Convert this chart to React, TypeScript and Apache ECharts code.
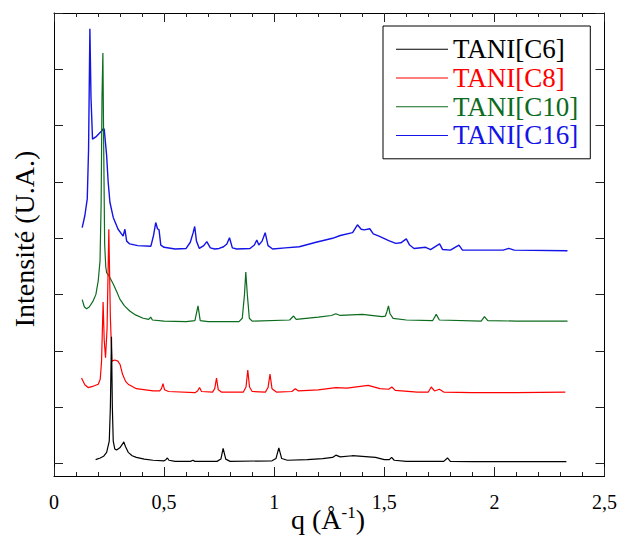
import React, { useEffect, useRef } from 'react';
import * as echarts from 'echarts';

const seriesNames = ['TANI[C6]', 'TANI[C8]', 'TANI[C10]', 'TANI[C16]'];
const seriesColors = ['#000000', '#ff0000', '#0b6b1e', '#1414e6'];
const xTickValues = [0, 0.5, 1, 1.5, 2, 2.5];
const yTickValues = [0, 1, 2, 3, 4, 5, 6, 7, 8];

const c6: [number, number][] = [
  [0.189, 0.07], [0.21, 0.1], [0.225, 0.13], [0.239, 0.2], [0.251, 0.4], [0.256, 1.0], [0.261, 2.25],
  [0.265, 1.0], [0.269, 0.4], [0.276, 0.26], [0.284, 0.24], [0.299, 0.28], [0.31, 0.34], [0.317, 0.385],
  [0.325, 0.3], [0.337, 0.2], [0.355, 0.14], [0.374, 0.11], [0.41, 0.08], [0.45, 0.06], [0.5, 0.05],
  [0.508, 0.07], [0.515, 0.1], [0.522, 0.06], [0.55, 0.04], [0.62, 0.04], [0.631, 0.06], [0.64, 0.04],
  [0.74, 0.04], [0.758, 0.08], [0.768, 0.27], [0.78, 0.08], [0.8, 0.04], [0.99, 0.05], [1.008, 0.09],
  [1.021, 0.28], [1.034, 0.09], [1.06, 0.06], [1.15, 0.07], [1.22, 0.09], [1.265, 0.11], [1.28, 0.15],
  [1.3, 0.12], [1.355, 0.14], [1.4, 0.13], [1.46, 0.11], [1.5, 0.07], [1.523, 0.07], [1.533, 0.11],
  [1.545, 0.06], [1.6, 0.04], [1.77, 0.04], [1.787, 0.1], [1.8, 0.04], [1.9, 0.035], [2.1, 0.035],
  [2.327, 0.035],
];

const c8: [number, number][] = [
  [0.125, 1.52], [0.14, 1.4], [0.155, 1.35], [0.175, 1.37], [0.201, 1.41], [0.21, 1.5], [0.216, 1.82],
  [0.223, 2.87], [0.228, 2.2], [0.234, 1.88], [0.241, 2.4], [0.249, 4.16], [0.256, 2.6], [0.263, 1.82],
  [0.276, 1.84], [0.29, 1.82], [0.3, 1.76], [0.311, 1.59], [0.325, 1.46], [0.337, 1.41], [0.374, 1.33],
  [0.45, 1.29], [0.48, 1.29], [0.488, 1.33], [0.495, 1.42], [0.502, 1.31], [0.52, 1.28], [0.64, 1.26],
  [0.652, 1.29], [0.661, 1.35], [0.67, 1.28], [0.72, 1.27], [0.73, 1.33], [0.738, 1.52], [0.746, 1.31],
  [0.76, 1.27], [0.86, 1.27], [0.872, 1.36], [0.88, 1.66], [0.888, 1.36], [0.9, 1.28], [0.96, 1.27],
  [0.972, 1.35], [0.981, 1.59], [0.99, 1.33], [1.01, 1.27], [1.08, 1.28], [1.096, 1.33], [1.11, 1.29],
  [1.2, 1.31], [1.28, 1.35], [1.33, 1.34], [1.427, 1.39], [1.48, 1.33], [1.52, 1.32], [1.534, 1.36],
  [1.55, 1.3], [1.65, 1.27], [1.7, 1.27], [1.713, 1.36], [1.728, 1.29], [1.75, 1.32], [1.77, 1.27],
  [1.9, 1.26], [2.1, 1.26], [2.322, 1.27],
];

const c10: [number, number][] = [
  [0.128, 2.91], [0.138, 2.78], [0.148, 2.75], [0.16, 2.78], [0.178, 2.89], [0.19, 3.0], [0.201, 3.25],
  [0.209, 3.6], [0.214, 4.6], [0.218, 6.5], [0.222, 7.29], [0.226, 5.5], [0.23, 3.9], [0.235, 3.5],
  [0.239, 3.39], [0.25, 3.33], [0.269, 3.19], [0.285, 3.05], [0.299, 2.92], [0.32, 2.8], [0.344, 2.71],
  [0.37, 2.64], [0.405, 2.58], [0.43, 2.56], [0.439, 2.6], [0.447, 2.55], [0.5, 2.53], [0.6, 2.52],
  [0.64, 2.54], [0.654, 2.8], [0.664, 2.54], [0.7, 2.52], [0.84, 2.52], [0.855, 2.58], [0.865, 3.0],
  [0.871, 3.4], [0.878, 3.0], [0.887, 2.58], [0.9, 2.53], [1.07, 2.55], [1.088, 2.62], [1.1, 2.56],
  [1.2, 2.6], [1.26, 2.63], [1.28, 2.66], [1.3, 2.63], [1.4, 2.65], [1.49, 2.61], [1.505, 2.62],
  [1.512, 2.7], [1.519, 2.8], [1.526, 2.66], [1.54, 2.58], [1.6, 2.55], [1.72, 2.54], [1.736, 2.65],
  [1.75, 2.55], [1.94, 2.53], [1.955, 2.61], [1.97, 2.54], [2.1, 2.53], [2.332, 2.53],
];

const c16: [number, number][] = [
  [0.128, 4.19], [0.14, 4.4], [0.151, 4.7], [0.157, 5.58], [0.163, 7.72], [0.168, 6.5], [0.175, 5.76],
  [0.19, 5.8], [0.205, 5.86], [0.215, 5.9], [0.223, 5.94], [0.228, 5.94], [0.239, 5.47], [0.246, 5.0],
  [0.254, 4.64], [0.269, 4.37], [0.291, 4.16], [0.314, 4.04], [0.322, 4.16], [0.33, 3.95], [0.344, 3.9],
  [0.38, 3.87], [0.44, 3.86], [0.452, 4.05], [0.462, 4.28], [0.47, 4.17], [0.477, 4.15], [0.485, 3.88],
  [0.5, 3.84], [0.55, 3.81], [0.6, 3.82], [0.619, 3.93], [0.632, 4.1], [0.639, 4.21], [0.647, 3.95],
  [0.66, 3.82], [0.68, 3.87], [0.694, 3.94], [0.71, 3.83], [0.73, 3.81], [0.75, 3.82], [0.77, 3.85],
  [0.785, 3.9], [0.797, 4.01], [0.81, 3.83], [0.83, 3.81], [0.89, 3.82], [0.91, 3.88], [0.921, 3.97],
  [0.93, 3.88], [0.945, 3.95], [0.959, 4.1], [0.972, 3.87], [0.993, 3.81], [1.05, 3.83], [1.114, 3.85],
  [1.19, 3.93], [1.265, 4.0], [1.3, 4.05], [1.356, 4.1], [1.378, 4.24], [1.395, 4.16], [1.409, 4.15],
  [1.434, 4.17], [1.45, 4.08], [1.476, 4.04], [1.52, 3.96], [1.552, 3.91], [1.575, 3.92], [1.6, 3.99],
  [1.615, 3.88], [1.635, 3.82], [1.688, 3.84], [1.71, 3.8], [1.751, 3.9], [1.765, 3.8], [1.8, 3.79],
  [1.839, 3.88], [1.855, 3.79], [2.04, 3.79], [2.065, 3.82], [2.09, 3.79], [2.332, 3.78],
];

const seriesData = [c6, c8, c10, c16];

const FONT = "'Liberation Serif', 'Times New Roman', Times, serif";

export default function App() {
  const ref = useRef<HTMLDivElement>(null);
  useEffect(() => {
    const chart = echarts.init(ref.current!, null, { renderer: 'svg' });
    const xCommon = {
      type: 'value',
      min: xTickValues[0],
      max: xTickValues[xTickValues.length - 1],
      interval: 0.5,
      axisLine: { show: true, onZero: false, lineStyle: { color: '#000', width: 1 } },
      axisTick: { show: true, inside: true, length: 9, lineStyle: { color: '#222' } },
      minorTick: { show: true, splitNumber: 5, length: 4, lineStyle: { color: '#222' } },
      splitLine: { show: false },
    };
    const yCommon = {
      type: 'value',
      min: -0.22,
      max: 8,
      axisLine: { show: true, onZero: false, lineStyle: { color: '#000', width: 1 } },
      axisTick: { show: true, inside: true, length: 9, lineStyle: { color: '#222' }, customValues: yTickValues },
      axisLabel: { show: false },
      splitLine: { show: false },
    };
    chart.setOption({
      animation: false,
      backgroundColor: '#fff',
      textStyle: { fontFamily: FONT },
      grid: { left: 54, right: 14, top: 13, bottom: 59, containLabel: false },
      xAxis: [
        {
          ...xCommon,
          position: 'bottom',
          axisLabel: {
            show: true,
            margin: 16,
            fontSize: 20,
            fontFamily: FONT,
            color: '#000',
            formatter: (v: number) => String(v).replace('.', ','),
          },
        },
        { ...xCommon, position: 'top', axisLabel: { show: false } },
      ],
      yAxis: [
        { ...yCommon, position: 'left' },
        { ...yCommon, position: 'right' },
      ],
      legend: {
        orient: 'vertical',
        left: 383,
        top: 26,
        padding: [9, 12, 9, 13],
        itemGap: 0,
        itemWidth: 52,
        itemHeight: 1,
        icon: 'rect',
        borderColor: '#000',
        borderWidth: 1,
        backgroundColor: '#fff',
        textStyle: { fontSize: 27, fontFamily: FONT, lineHeight: 28.7 },
        data: seriesNames.map((n, i) => ({ name: n, textStyle: { color: seriesColors[i], fontFamily: FONT } })),
      },
      graphic: [
        {
          type: 'text',
          x: 24,
          y: 239,
          rotation: Math.PI / 2,
          style: {
            text: 'Intensité (U.A.)',
            fontSize: 28,
            fontFamily: FONT,
            fill: '#000',
            align: 'center',
            verticalAlign: 'middle',
          },
        },
        {
          type: 'text',
          x: 328,
          y: 504,
          style: {
            text: '{a|q (Å}{b|-1}{a|)}',
            align: 'center',
            verticalAlign: 'top',
            fill: '#000',
            fontFamily: FONT,
            rich: {
              a: { fontSize: 28, fontFamily: FONT, fill: '#000', lineHeight: 30 },
              b: { fontSize: 17, fontFamily: FONT, fill: '#000', verticalAlign: 'top', lineHeight: 20 },
            },
          },
        },
      ],
      series: seriesNames.map((n, i) => ({
        name: n,
        type: 'line',
        xAxisIndex: 0,
        yAxisIndex: 0,
        data: seriesData[i],
        showSymbol: false,
        symbol: 'none',
        z: 10 - i,
        color: seriesColors[i],
        lineStyle: { width: i === 3 ? 1.4 : 1.2, color: seriesColors[i] },
      })),
    });
    return () => chart.dispose();
  }, []);
  return (
    <div
      ref={ref}
      style={{ position: 'absolute', left: 0, top: 0, width: 620, height: 535 }}
    />
  );
}
